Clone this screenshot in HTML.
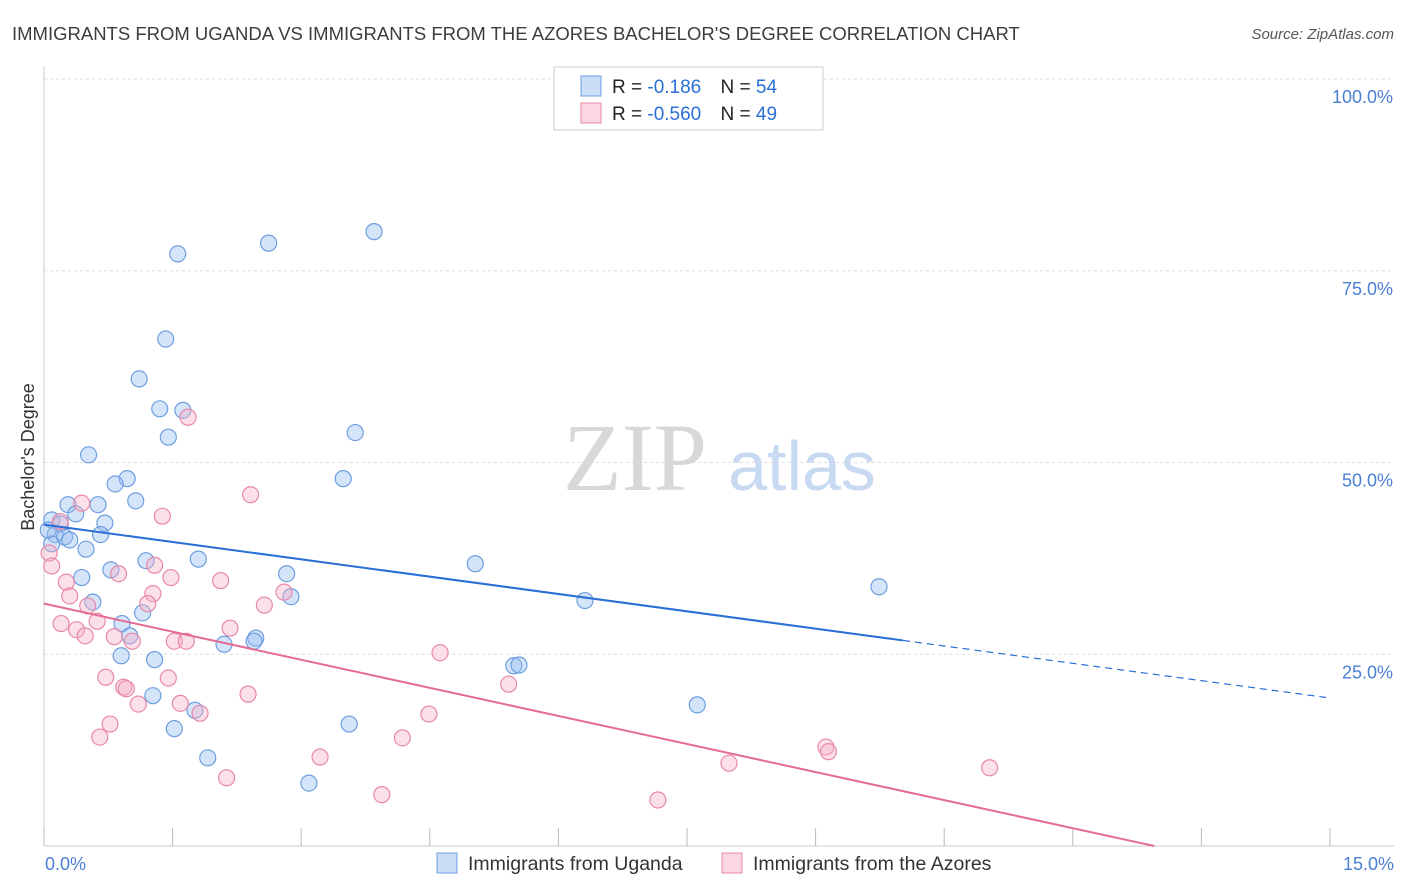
<!DOCTYPE html>
<html><head><meta charset="utf-8">
<style>
body{margin:0;background:#fff;font-family:"Liberation Sans",sans-serif;}
#wrap{position:relative;width:1406px;height:892px;overflow:hidden;}
</style></head>
<body>
<div id="wrap">
<svg id="chart" width="1406" height="892" xmlns="http://www.w3.org/2000/svg"></svg>
</div>
<script>
const blueX=[1.56,2.62,3.85,1.42,1.11,1.35,1.62,1.45,3.63,0.52,0.97,0.83,3.49,1.07,0.28,0.63,0.37,0.09,0.19,0.71,0.13,0.24,0.66,0.49,0.09,5.03,1.19,1.80,0.78,0.44,2.83,2.88,0.57,1.15,9.74,6.31,0.91,1.00,2.47,2.45,2.10,0.90,1.29,5.48,5.54,1.27,1.76,7.62,3.56,1.52,1.91,3.09,0.05,0.30];
const blueY=[77.2,78.6,80.1,66.1,60.9,57.0,56.8,53.3,53.9,51.0,47.9,47.2,47.9,45.0,44.5,44.5,43.3,42.5,42.0,42.1,40.6,40.3,40.6,38.7,39.4,36.8,37.2,37.4,36.0,35.0,35.5,32.5,31.8,30.4,33.8,32.0,29.0,27.4,27.1,26.7,26.3,24.8,24.3,23.5,23.6,19.6,17.7,18.4,15.9,15.3,11.5,8.2,41.2,39.9];
const pinkX=[1.68,2.41,1.38,0.44,0.19,0.06,0.09,0.87,1.29,1.48,0.26,2.06,0.30,1.27,0.51,1.21,2.57,2.80,0.20,0.38,0.62,0.48,0.82,1.03,1.52,1.66,2.17,4.62,0.72,1.45,0.93,0.96,1.10,1.59,1.82,2.38,5.42,4.49,0.77,0.65,3.22,4.18,9.12,9.15,7.99,11.03,2.13,3.94,7.16];
const pinkY=[55.9,45.8,43.0,44.7,42.3,38.2,36.5,35.5,36.6,35.0,34.4,34.6,32.6,32.9,31.3,31.6,31.4,33.1,29.0,28.2,29.3,27.4,27.3,26.7,26.7,26.7,28.4,25.2,22.0,21.9,20.7,20.5,18.5,18.6,17.3,19.8,21.1,17.2,15.9,14.2,11.6,14.1,12.9,12.3,10.8,10.2,8.9,6.7,6.0];
const blueTrend=[41.9,-1.507,10.02];
const pinkTrend=[31.6,-2.44];
const yTicks=[25,50,75,100];
const yTickLabels=["25.0%","50.0%","75.0%","100.0%"];

const svg=document.getElementById('chart');
const NS="http://www.w3.org/2000/svg";
const X0=44,X1=1330,Y0=846,Y100=79;
const sx=v=>X0+(v/15)*(X1-X0);
const sy=v=>Y0-(v/100)*(Y0-Y100);
function mk(t,a,p){const e=document.createElementNS(NS,t);for(const k in a)e.setAttribute(k,a[k]);(p||svg).appendChild(e);return e;}

let t=mk('text',{x:12,y:40,'font-size':18.5,fill:'#3d3d3d'});t.textContent="IMMIGRANTS FROM UGANDA VS IMMIGRANTS FROM THE AZORES BACHELOR'S DEGREE CORRELATION CHART";


t=mk('text',{x:1394,y:39,'font-size':15,fill:'#555','text-anchor':'end','font-style':'italic'});t.textContent="Source: ZipAtlas.com";



yTicks.forEach((v,i)=>{
 const g=mk('line',{x1:X0,x2:1394,y1:sy(v),y2:sy(v),stroke:'#ddd','stroke-dasharray':'3,3'});
 
 
 const l=mk('text',{x:1393,y:sy(v)+24,'font-size':18,fill:'#4a7fd4','text-anchor':'end'});l.textContent=yTickLabels[i];
 
 
});
let a=mk('line',{x1:X0,x2:X0,y1:66,y2:Y0,stroke:'#ccc'});


a=mk('line',{x1:X0,x2:1394,y1:Y0,y2:Y0,stroke:'#ccc'});


for(let i=0;i<=10;i++){const tk=mk('line',{x1:sx(i*1.5),x2:sx(i*1.5),y1:828,y2:Y0,stroke:'#bbb'});
 
 }
t=mk('text',{x:45,y:870,'font-size':18,fill:'#4a7fd4'});t.textContent="0.0%";


t=mk('text',{x:1394,y:870,'font-size':18,fill:'#4a7fd4','text-anchor':'end'});t.textContent="15.0%";


t=mk('text',{x:34,y:457,'font-size':18,fill:'#333','text-anchor':'middle',transform:'rotate(-90 34 457)'});t.textContent="Bachelor's Degree";



t=mk('text',{x:635,y:490,'font-size':96,fill:'#d8d8d8','font-family':'Liberation Serif,serif','text-anchor':'middle'});t.textContent="ZIP";


t=mk('text',{x:802,y:490,'font-size':70,fill:'#c8daf2','text-anchor':'middle'});t.textContent="atlas";



blueX.forEach((x,i)=>{const c=mk('circle',{cx:sx(x),cy:sy(blueY[i]),r:8,fill:'rgba(150,190,240,0.4)',stroke:'#6e9ee0','stroke-width':1.2});
 
 });
pinkX.forEach((x,i)=>{const c=mk('circle',{cx:sx(x),cy:sy(pinkY[i]),r:8,fill:'rgba(245,175,200,0.4)',stroke:'#e889a8','stroke-width':1.2});
 
 });

let l=mk('line',{x1:sx(0),y1:sy(blueTrend[0]),x2:sx(blueTrend[2]),y2:sy(blueTrend[0]+blueTrend[1]*blueTrend[2]),stroke:'#2a6fd6','stroke-width':2});


l=mk('line',{x1:sx(blueTrend[2]),y1:sy(blueTrend[0]+blueTrend[1]*blueTrend[2]),x2:sx(15),y2:sy(blueTrend[0]+blueTrend[1]*15),stroke:'#2a6fd6','stroke-width':1.2,'stroke-dasharray':'7,5'});


const pEnd=-pinkTrend[0]/pinkTrend[1];
l=mk('line',{x1:sx(0),y1:sy(pinkTrend[0]),x2:sx(pEnd),y2:sy(0),stroke:'#e46c93','stroke-width':2});



let r=mk('rect',{x:554,y:67,width:269,height:63,fill:'#fff',stroke:'#ccc'});


[[86,'rgba(150,190,240,0.5)','#6e9ee0','-0.186','54'],[113,'rgba(245,175,200,0.5)','#e889a8','-0.560','49']].forEach(([y,f,s,rv,n],i)=>{
 const sw=mk('rect',{x:581,y:y-10,width:20,height:20,fill:f,stroke:s});
 
 
 const tx=mk('text',{x:612,y:y+7,'font-size':19,fill:'#222'});
 tx.innerHTML='R = <tspan fill="#2a6fd6"> '+rv+'</tspan>   <tspan dx="14">N = </tspan><tspan fill="#2a6fd6">'+n+'</tspan>';
 
 
});

[[437,'rgba(150,190,240,0.5)','#6e9ee0','Immigrants from Uganda','legend-uganda'],[722,'rgba(245,175,200,0.5)','#e889a8','Immigrants from the Azores','legend-azores']].forEach(([x,f,s,lab,nm])=>{
 const sw=mk('rect',{x:x,y:853,width:20,height:20,fill:f,stroke:s});
 
 
 const tx=mk('text',{x:x+31,y:870,'font-size':19.5,fill:'#333'});tx.textContent=lab;
 
 
});
</script>
</body></html>
